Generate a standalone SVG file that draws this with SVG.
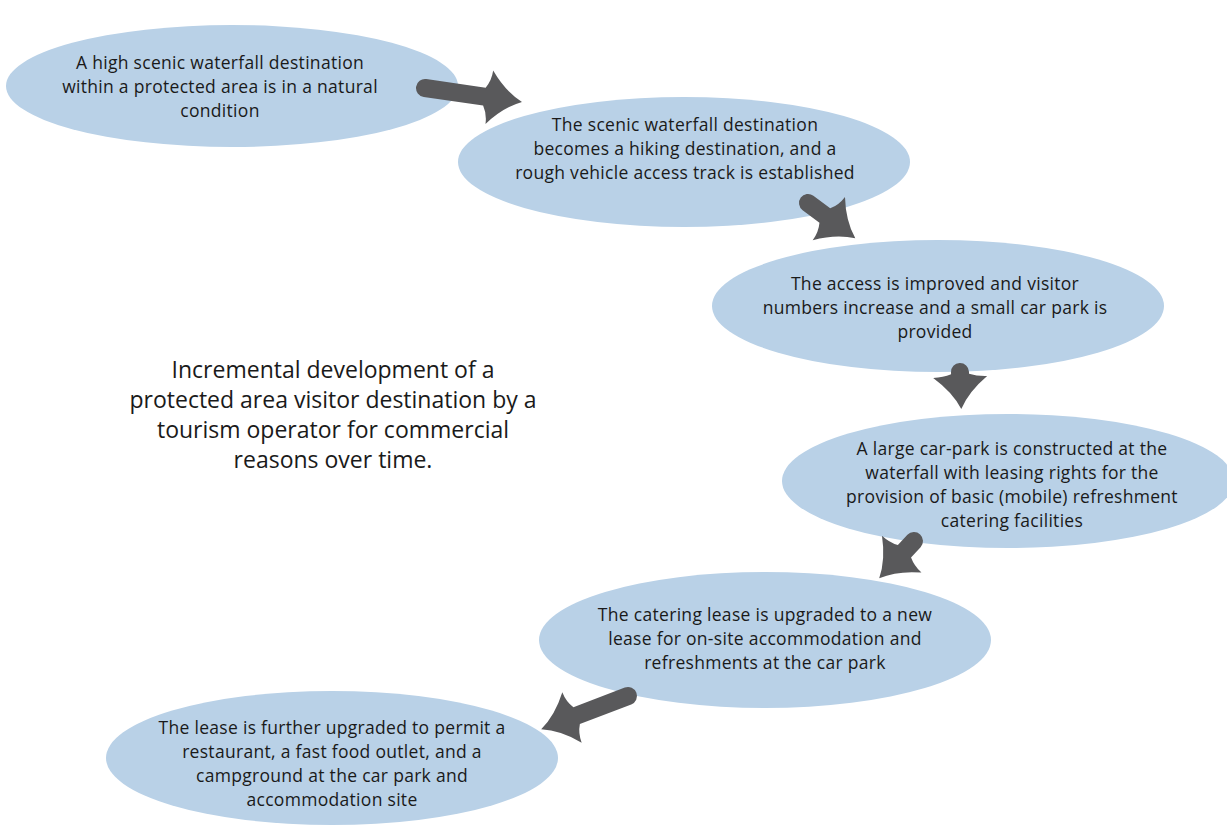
<svg xmlns="http://www.w3.org/2000/svg" width="1227" height="825" viewBox="0 0 1227 825">
<style>
.node ellipse{fill:#b9d1e7}
.t{font-family:"Open Sans","Liberation Sans",sans-serif;font-size:17.5px;letter-spacing:0.3px;fill:#1a1a1a;text-anchor:middle}
.title{font-family:"Open Sans","Liberation Sans",sans-serif;font-size:23px;fill:#1a1a1a;text-anchor:middle}
.arr{fill:#59595b}
</style>
<rect width="1227" height="825" fill="#ffffff"/>
<g id="node1" class="node">
<ellipse cx="232" cy="86" rx="226" ry="61"/>
<text class="t" x="220" y="69">A high scenic waterfall destination</text>
<text class="t" x="220" y="93">within a protected area is in a natural</text>
<text class="t" x="220" y="117">condition</text>
</g>
<g id="node2" class="node">
<ellipse cx="684" cy="162" rx="226" ry="65"/>
<text class="t" x="685" y="131">The scenic waterfall destination</text>
<text class="t" x="685" y="155">becomes a hiking destination, and a</text>
<text class="t" x="685" y="179">rough vehicle access track is established</text>
</g>
<g id="node3" class="node">
<ellipse cx="938" cy="306" rx="226" ry="66"/>
<text class="t" x="935" y="290">The access is improved and visitor</text>
<text class="t" x="935" y="314">numbers increase and a small car park is</text>
<text class="t" x="935" y="338">provided</text>
</g>
<g id="node4" class="node">
<ellipse cx="1008" cy="481" rx="226" ry="67"/>
<text class="t" x="1012" y="455">A large car-park is constructed at the</text>
<text class="t" x="1012" y="479">waterfall with leasing rights for the</text>
<text class="t" x="1012" y="503">provision of basic (mobile) refreshment</text>
<text class="t" x="1012" y="527">catering facilities</text>
</g>
<g id="node5" class="node">
<ellipse cx="765" cy="640" rx="226" ry="68"/>
<text class="t" x="765" y="621">The catering lease is upgraded to a new</text>
<text class="t" x="765" y="645">lease for on-site accommodation and</text>
<text class="t" x="765" y="669">refreshments at the car park</text>
</g>
<g id="node6" class="node">
<ellipse cx="332" cy="758" rx="226" ry="67"/>
<text class="t" x="332" y="734">The lease is further upgraded to permit a</text>
<text class="t" x="332" y="758">restaurant, a fast food outlet, and a</text>
<text class="t" x="332" y="782">campground at the car park and</text>
<text class="t" x="332" y="806">accommodation site</text>
</g>
<g id="title">
<text class="title" x="333" y="378">Incremental development of a</text>
<text class="title" x="333" y="408">protected area visitor destination by a</text>
<text class="title" x="333" y="438">tourism operator for commercial</text>
<text class="title" x="333" y="468">reasons over time.</text>
</g>
<g id="connectors">
<path class="arr" transform="translate(425,88) rotate(8.2)" d="M0,-9 L60,-9 Q65,-17 65,-27 Q80,-8 98,0 Q80,8 65,27 Q65,17 60,9 L0,9 A9,9 0 0 1 0,-9Z"/>
<path class="arr" transform="translate(808,203) rotate(36.7)" d="M0,-9 L21,-9 Q26,-17 26,-27 Q41,-8 59,0 Q41,8 26,27 Q26,17 21,9 L0,9 A9,9 0 0 1 0,-9Z"/>
<path class="arr" transform="translate(960,372) rotate(88)" d="M0,-9 L2,-9 Q5,-17 5,-27 Q20,-8 37,0 Q20,8 5,27 Q5,17 2,9 L0,9 A9,9 0 0 1 0,-9Z"/>
<path class="arr" transform="translate(914,541) rotate(133)" d="M0,-9 L14,-9 Q18,-17 18,-27 Q33,-8 51,0 Q33,8 18,27 Q18,17 14,9 L0,9 A9,9 0 0 1 0,-9Z"/>
<path class="arr" transform="translate(628,696) rotate(159)" d="M0,-9 L55,-9 Q60,-17 60,-27 Q75,-8 93,0 Q75,8 60,27 Q60,17 55,9 L0,9 A9,9 0 0 1 0,-9Z"/>
</g>
</svg>
